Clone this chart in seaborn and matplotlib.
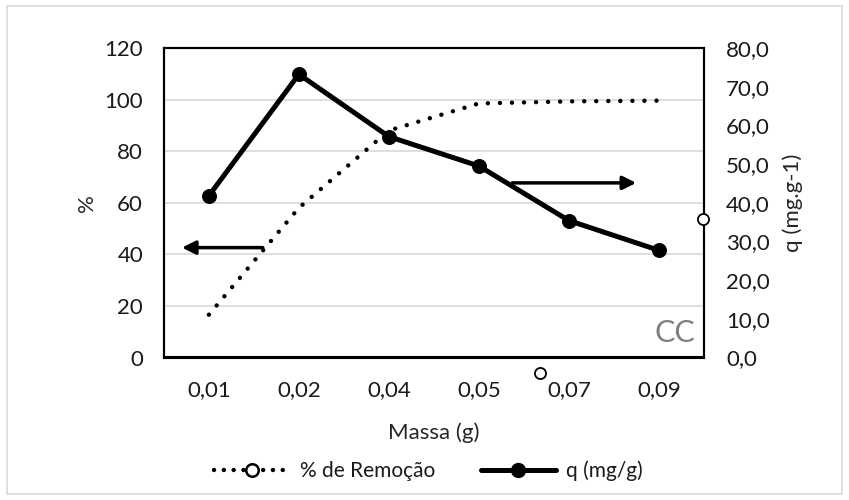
import matplotlib
matplotlib.use("Agg")
import matplotlib.pyplot as plt
from matplotlib.lines import Line2D
from matplotlib.patches import Rectangle
from matplotlib.ticker import FuncFormatter
import seaborn as sns
import pandas as pd

# Data
massa = ["0,01", "0,02", "0,04", "0,05", "0,07", "0,09"]
remocao = [16.6, 58.0, 88.0, 98.5, 99.3, 99.6]   # % de Remoção (left axis)
q_mg_g = [41.8, 73.2, 57.1, 49.5, 35.4, 27.7]    # q (mg/g) (right axis)

df = pd.DataFrame({"massa": massa, "remocao": remocao, "q": q_mg_g})

sns.set_theme(style="white")
plt.rcParams["font.family"] = ["Lato", "DejaVu Sans"]
plt.rcParams["text.color"] = "#1a1a1a"

FS = 16

fig = plt.figure(figsize=(8.49, 5.0), dpi=100)
ax = fig.add_axes([0.193, 0.285, 0.636, 0.619])
ax2 = ax.twinx()

# % de Remoção - dotted line on left axis
sns.lineplot(data=df, x="massa", y="remocao", ax=ax, sort=False, color="black",
             lw=3.2, linestyle=(0, (0.01, 2.7)), dash_capstyle="round", zorder=3)

# q (mg/g) - thick solid line with markers on right axis
sns.lineplot(data=df, x="massa", y="q", ax=ax2, sort=False, color="black",
             lw=3.6, marker="o", markersize=10, markeredgecolor="black", zorder=3)

ax.set_xlim(-0.5, len(massa) - 0.5)
ax.set_ylim(0, 120)
ax.set_yticks(range(0, 121, 20))
ax2.set_ylim(0, 80)
ax2.set_yticks(range(0, 81, 10))
ax2.yaxis.set_major_formatter(FuncFormatter(lambda v, p: f"{v:.1f}".replace(".", ",")))

ax.grid(axis="y", color="#d9d9d9", lw=1.2)
ax.set_axisbelow(True)
ax2.grid(False)

for a in (ax, ax2):
    a.tick_params(length=0, labelsize=FS, colors="#1a1a1a")
    for s in a.spines.values():
        s.set_color("black")
        s.set_linewidth(1.5)
ax.tick_params(axis="x", pad=16)
ax.tick_params(axis="y", pad=15)
ax2.tick_params(axis="y", pad=16)

ax.set_xlabel("Massa (g)", fontsize=FS, labelpad=16)
ax.set_ylabel("%", fontsize=FS, labelpad=5)
ax2.set_ylabel("q (mg.g-1)", fontsize=FS, labelpad=9)

# Arrows pointing to the matching axis
ax.annotate("", xy=(-0.33, 42.6), xytext=(0.63, 42.6),
            arrowprops=dict(arrowstyle="-|>", color="black", lw=2.5, mutation_scale=20))
ax.annotate("", xy=(4.78, 67.7), xytext=(3.34, 67.7),
            arrowprops=dict(arrowstyle="-|>", color="black", lw=2.5, mutation_scale=20))

ax.text(0.985, 0.035, "CC", transform=ax.transAxes, ha="right", va="bottom",
        fontsize=22, color="#7f7f7f")

# Stray hollow markers seen in the original
for fx, fy in [(540 / 849, 1 - 373 / 500), (703 / 849, 1 - 219 / 500)]:
    fig.add_artist(Line2D([fx], [fy], marker="o", markersize=8, mfc="white",
                          mec="black", mew=1.3, transform=fig.transFigure))

handles = [
    Line2D([], [], color="black", lw=3.2, linestyle=(0, (0.01, 2.2)), dash_capstyle="round",
           marker="o", markersize=9, mfc="white", mec="black", mew=1.8),
    Line2D([], [], color="black", lw=3.6, marker="o", markersize=10),
]
fig.legend(handles, ["% de Remoção", "q (mg/g)"], loc="center", bbox_to_anchor=(0.505, 0.058),
           ncol=2, frameon=False, fontsize=15, handlelength=3.6, columnspacing=2.2,
           handletextpad=0.5)

fig.add_artist(Rectangle((7 / 849, 6 / 500), 835 / 849, 488 / 500, transform=fig.transFigure,
                         fill=False, edgecolor="#d9d9d9", lw=1.2))

fig.savefig("out.png", dpi=100)
